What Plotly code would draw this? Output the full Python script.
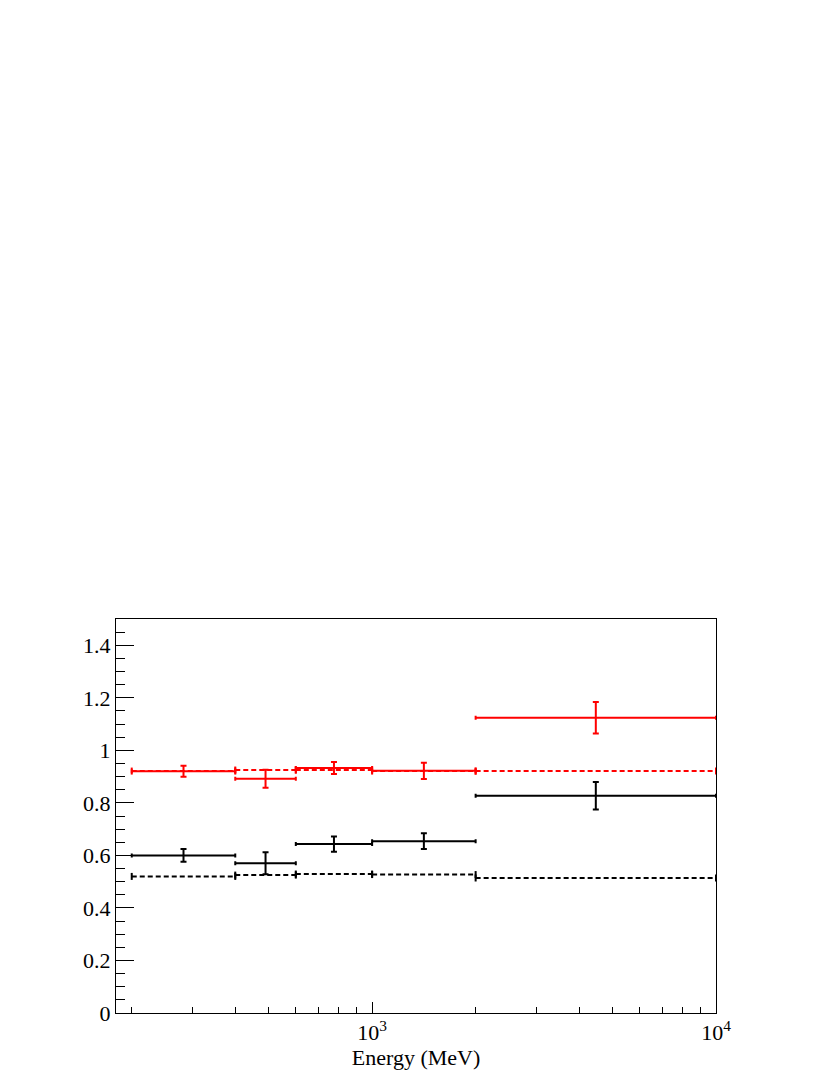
import numpy as np
import plotly.graph_objects as go

# energy bins (MeV)
bin_lo = [200, 400, 600, 1000, 2000]
bin_hi = [400, 600, 1000, 2000, 10000]

# red: measured points and dashed reference
red_val = [0.920, 0.892, 0.933, 0.922, 1.124]
red_err = [0.021, 0.034, 0.023, 0.031, 0.060]
red_ref = [0.921, 0.925, 0.925, 0.921, 0.921]

# black: measured points and dashed reference
blk_val = [0.600, 0.570, 0.643, 0.654, 0.827]
blk_err = [0.024, 0.042, 0.029, 0.030, 0.052]
blk_ref = [0.520, 0.525, 0.529, 0.527, 0.514]

lo = np.array(bin_lo, dtype=float)
hi = np.array(bin_hi, dtype=float)
ctr = np.sqrt(lo * hi)


def points(vals, errs, color):
    return go.Scatter(
        x=ctr, y=vals, mode='markers',
        marker=dict(size=1, color=color),
        error_x=dict(type='data', symmetric=False, array=hi - ctr, arrayminus=ctr - lo,
                     color=color, thickness=2, width=2),
        error_y=dict(type='data', array=errs, color=color, thickness=2, width=3),
        hoverinfo='skip', showlegend=False)


def dashed(vals, color):
    xs, ys = [], []
    for a, b, v in zip(lo, hi, vals):
        xs += [a, b, None]
        ys += [v, v, None]
    line = go.Scatter(x=xs, y=ys, mode='lines',
                      line=dict(color=color, width=2, dash='5px,3px'),
                      hoverinfo='skip', showlegend=False)
    ex, ey = [], []
    for a, b, v in zip(lo, hi, vals):
        ex += [a, b]
        ey += [v, v]
    caps = go.Scatter(x=ex, y=ey, mode='markers',
                      marker=dict(symbol='line-ns', size=5, line=dict(color=color, width=2)),
                      hoverinfo='skip', showlegend=False)
    return [line, caps]


fig = go.Figure()
for t in dashed(blk_ref, 'black'):
    fig.add_trace(t)
for t in dashed(red_ref, 'red'):
    fig.add_trace(t)
fig.add_trace(points(blk_val, blk_err, 'black'))
fig.add_trace(points(red_val, red_err, 'red'))

minor_x = [200, 300, 400, 500, 600, 700, 800, 900,
           2000, 3000, 4000, 5000, 6000, 7000, 8000, 9000]

fig.update_layout(
    width=830, height=1075,
    margin=dict(l=108, r=122, t=611, b=70),
    paper_bgcolor='white', plot_bgcolor='white',
    font=dict(family='Liberation Serif', size=22, color='black'),
    xaxis=dict(
        type='log', range=[np.log10(180), 4],
        tickvals=[1000, 10000], ticktext=['10<sup>3</sup>', '10<sup>4</sup>'],
        ticks='inside', ticklen=11, tickwidth=1, tickcolor='black',
        minor=dict(tickvals=minor_x, ticks='inside', ticklen=6, tickcolor='black', showgrid=False),
        showline=True, linecolor='black', linewidth=1, mirror=True,
        showgrid=False, zeroline=False,
        title=dict(text='Energy (MeV)', standoff=0, font=dict(size=22)),
    ),
    yaxis=dict(
        range=[0, 1.5], tickvals=[0, 0.2, 0.4, 0.6, 0.8, 1, 1.2, 1.4],
        ticktext=['0', '0.2', '0.4', '0.6', '0.8', '1', '1.2', '1.4'],
        ticks='inside', ticklen=18, tickwidth=1, tickcolor='black',
        minor=dict(dtick=0.05, tick0=0, ticks='inside', ticklen=9, tickcolor='black', showgrid=False),
        showline=True, linecolor='black', linewidth=1, mirror=True,
        showgrid=False, zeroline=False,
    ),
)

fig.write_html("out.html")
